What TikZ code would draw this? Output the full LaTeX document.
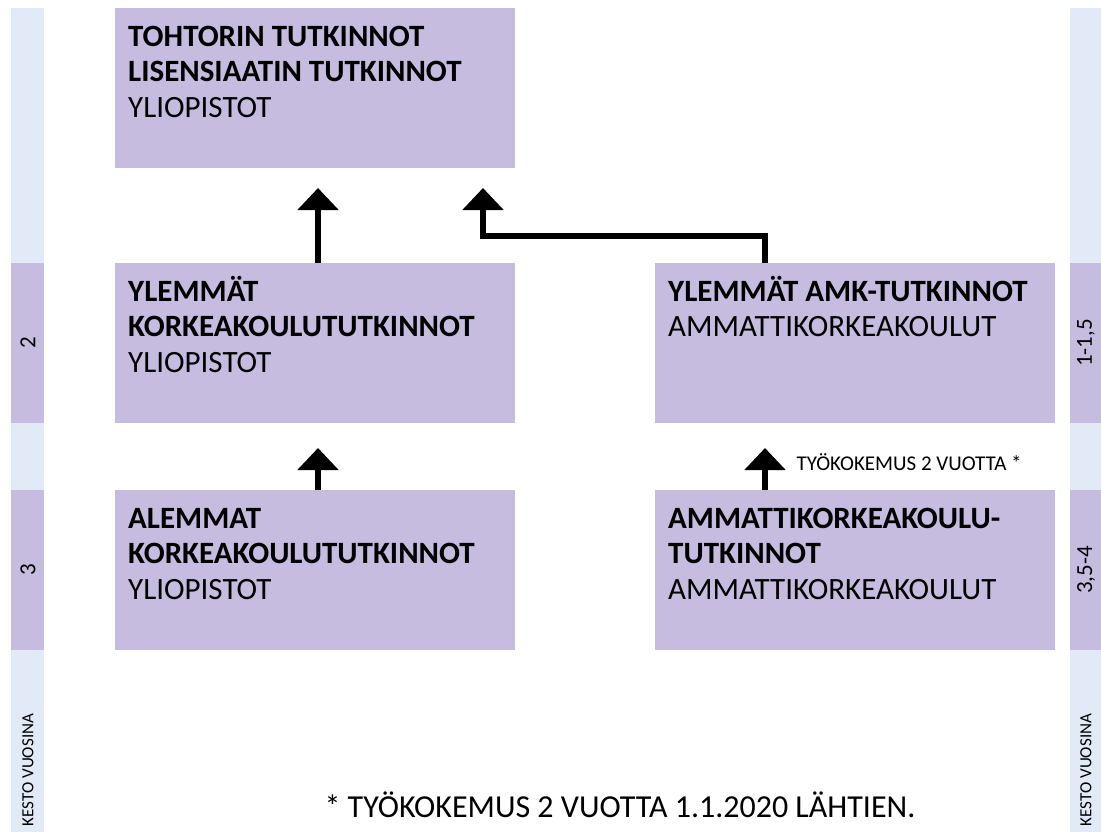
\documentclass[tikz,border=0pt]{standalone}
\usepackage{fontspec}
\setmainfont{Carlito}
\usepackage{tikz}
\usetikzlibrary{arrows.meta}
\definecolor{boxlila}{HTML}{C5BCDF}
\definecolor{barblue}{HTML}{E1EAF6}
\newcommand{\ylarivi}{\vphantom{Ä}}
\tikzset{
  tutkinto/.style={fill=boxlila, draw=none, inner sep=0pt, anchor=north west, minimum width=400pt, minimum height=160pt},
  palkki/.style={fill=barblue, draw=none},
  palkkiosa/.style={fill=boxlila, draw=none},
  boxtext/.style={anchor=north west, align=left, inner sep=0pt, font=\fontsize{31}{35.5}\selectfont},
  kesto/.style={rotate=90, font=\fontsize{23}{25}\selectfont},
  nuoli/.style={line width=6pt, -{Triangle[width=40pt,length=22pt]}}
}
\begin{document}
\begin{tikzpicture}[x=1pt,y=-1pt]
\useasboundingbox (0,0) rectangle (1101,832);
%kesto-palkit
\fill[palkki] (11,8) rectangle (44,832);
\fill[palkki] (1070,8) rectangle (1101,832);
\fill[palkkiosa] (11,263) rectangle (44,423);
\fill[palkkiosa] (11,490) rectangle (44,650);
\fill[palkkiosa] (1070,263) rectangle (1101,423);
\fill[palkkiosa] (1070,490) rectangle (1101,650);
\node[kesto] (k2) at (28,343) {2};
\node[kesto] (k3) at (28,570) {3};
\node[kesto] (k15) at (1086,343) {1-1,5};
\node[kesto] (k354) at (1086,570) {3,5-4};
\node[rotate=90, font=\fontsize{17}{19}\selectfont] (vl) at (28,770) {KESTO VUOSINA};
\node[rotate=90, font=\fontsize{17}{19}\selectfont] (vr) at (1086,770) {KESTO VUOSINA};
%laatikot
\node[tutkinto] (toht) at (115,8) {};
\node[tutkinto] (ylem) at (115,263) {};
\node[tutkinto] (yamk) at (655,263) {};
\node[tutkinto] (alem) at (115,490) {};
\node[tutkinto] (amk) at (655,490) {};
%tekstit
\node[boxtext] (t1) at (128,21) {\ylarivi\textbf{TOHTORIN TUTKINNOT}\\\textbf{LISENSIAATIN TUTKINNOT}\\YLIOPISTOT};
\node[boxtext] (t2) at (128,276) {\ylarivi\textbf{YLEMMÄT}\\\textbf{KORKEAKOULUTUTKINNOT}\\YLIOPISTOT};
\node[boxtext] (t3) at (668,276) {\ylarivi\textbf{YLEMMÄT AMK-TUTKINNOT}\\AMMATTIKORKEAKOULUT};
\node[boxtext] (t4) at (128,503) {\ylarivi\textbf{ALEMMAT}\\\textbf{KORKEAKOULUTUTKINNOT}\\YLIOPISTOT};
\node[boxtext] (t5) at (668,503) {\ylarivi\textbf{AMMATTIKORKEAKOULU-}\\\textbf{TUTKINNOT}\\AMMATTIKORKEAKOULUT};
%nuolet
\coordinate (p1) at (483,188);
\draw[nuoli] (ylem.north west) ++(203,0) -- ++(0,-75);
\draw[nuoli] (alem.north west) ++(203,0) -- ++(0,-42);
\draw[nuoli] (amk.north west) ++(110,0) -- ++(0,-42);
\draw[nuoli] (yamk.north west) ++(110,0) |- (483,236) -- (p1);
\node[anchor=west, font=\fontsize{21}{24}\selectfont] (tk) at (793,462) {TYÖKOKEMUS 2 VUOTTA *};
\node[font=\fontsize{32}{36}\selectfont] (huom) at (620,805) {* TYÖKOKEMUS 2 VUOTTA 1.1.2020 LÄHTIEN.};
\end{tikzpicture}
\end{document}
